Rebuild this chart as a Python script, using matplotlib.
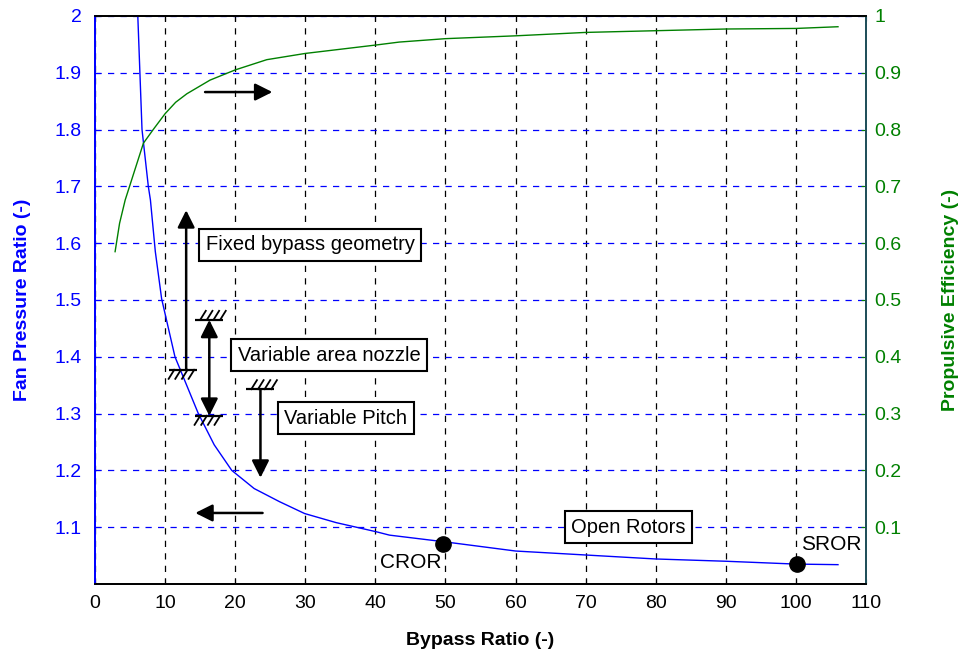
import matplotlib
matplotlib.use("Agg")
import matplotlib.pyplot as plt

plt.rcParams['font.family'] = ['Liberation Sans', 'DejaVu Sans']

# Fan pressure ratio vs bypass ratio (left axis)
bpr_fpr = [6.1, 6.7, 7.6, 7.9, 8.6, 9.5, 11.4, 14.7, 17.0, 19.5, 22.7, 26.3,
           29.9, 34.4, 40.1, 42.0, 50.0, 60.0, 70.0, 80.0, 90.0, 100.0, 106.0]
fpr = [2.0, 1.80, 1.70, 1.676, 1.585, 1.502, 1.400, 1.301, 1.245, 1.200, 1.168, 1.145,
       1.124, 1.108, 1.092, 1.086, 1.074, 1.058, 1.051, 1.044, 1.040, 1.035, 1.034]

# Propulsive efficiency vs bypass ratio (right axis)
bpr_eta = [2.86, 3.5, 4.3, 6.9, 8.3, 10.0, 11.5, 13.1, 16.4, 20.0, 24.5, 30.0, 40.2, 43.4,
           50.0, 60.0, 70.0, 80.0, 90.0, 100.0, 106.0]
eta = [0.585, 0.635, 0.676, 0.776, 0.800, 0.828, 0.848, 0.863, 0.887, 0.905, 0.923, 0.934,
       0.949, 0.954, 0.960, 0.965, 0.971, 0.974, 0.977, 0.978, 0.981]

# Design points
point_names = ['CROR', 'SROR']
point_bpr = [49.7, 100.2]
point_fpr = [1.070, 1.035]

x_ticks = list(range(0, 111, 10))
left_ticks = [1.1, 1.2, 1.3, 1.4, 1.5, 1.6, 1.7, 1.8, 1.9, 2.0]
left_labels = ['1.1', '1.2', '1.3', '1.4', '1.5', '1.6', '1.7', '1.8', '1.9', '2']
right_ticks = [0.1, 0.2, 0.3, 0.4, 0.5, 0.6, 0.7, 0.8, 0.9, 1.0]
right_labels = ['0.1', '0.2', '0.3', '0.4', '0.5', '0.6', '0.7', '0.8', '0.9', '1']

blue = '#0000ff'
green = '#008000'

fig = plt.figure(figsize=(9.63, 6.56), dpi=100)
ax = fig.add_axes([0.0987, 0.1098, 0.8006, 0.8659])
ax2 = ax.twinx()

ax.plot(bpr_fpr, fpr, color=blue, lw=1.0, zorder=3)
ax2.plot(bpr_eta, eta, color=green, lw=1.0)

ax.set_xlim(0, 110)
ax.set_ylim(1.0, 2.0)
ax2.set_ylim(0, 1)

ax.set_xticks(x_ticks)
ax.set_yticks(left_ticks)
ax.set_yticklabels(left_labels)
ax2.set_yticks(right_ticks)
ax2.set_yticklabels(right_labels)

ax.tick_params(axis='x', direction='in', top=True, labelsize=14, pad=8, colors='black')
ax.tick_params(axis='y', direction='in', labelsize=14, pad=9.5, colors=blue)
ax2.tick_params(axis='y', direction='in', labelsize=14, pad=6, colors=green)

ax.xaxis.grid(True, color='black', ls=(0, (5, 5)), lw=0.9)
ax.yaxis.grid(True, color=blue, ls=(0, (5, 5)), lw=0.9)

for a in (ax, ax2):
    a.spines['left'].set_color(blue)
    a.spines['right'].set_color('#1f4f5a')
    a.spines['top'].set_color('black')
    a.spines['bottom'].set_color('black')
    for s in a.spines.values():
        s.set_linewidth(1.3)

ax.set_xlabel('Bypass Ratio (-)', fontsize=14, fontweight='bold', labelpad=14)
ax.set_ylabel('Fan Pressure Ratio (-)', fontsize=14, fontweight='bold', color=blue, labelpad=17)
ax2.set_ylabel('Propulsive Efficiency (-)', fontsize=14, fontweight='bold', color=green, labelpad=29)

# Design points
ax.plot(point_bpr, point_fpr, 'o', color='black', ms=11, zorder=5)
ax.text(45.0, 1.037, 'CROR', fontsize=15, ha='center', va='center')
ax.text(105.0, 1.069, 'SROR', fontsize=15, ha='center', va='center')

# Text boxes
box = dict(boxstyle='square,pad=0.33', facecolor='white', edgecolor='black', lw=1.5)
ax.text(30.7, 1.597, 'Fixed bypass geometry', fontsize=14.5, ha='center', va='center', bbox=box, zorder=6)
ax.text(33.4, 1.403, 'Variable area nozzle', fontsize=14.5, ha='center', va='center', bbox=box, zorder=6)
ax.text(35.8, 1.292, 'Variable Pitch', fontsize=14.5, ha='center', va='center', bbox=box, zorder=6)
ax.text(76.1, 1.100, 'Open Rotors', fontsize=14.5, ha='center', va='center', bbox=box, zorder=6)

# Arrows
arr = dict(arrowstyle='-|>', color='black', lw=1.8, mutation_scale=26, shrinkA=0, shrinkB=0)
arr2 = dict(arrowstyle='<|-|>', color='black', lw=1.8, mutation_scale=26, shrinkA=0, shrinkB=0)
ax2.annotate('', xy=(25.3, 0.866), xytext=(15.7, 0.866), arrowprops=arr)
ax.annotate('', xy=(14.3, 1.125), xytext=(23.9, 1.125), arrowprops=arr)
ax.annotate('', xy=(13.0, 1.658), xytext=(13.0, 1.377), arrowprops=arr)
ax.annotate('', xy=(16.3, 1.465), xytext=(16.3, 1.296), arrowprops=arr2)
ax.annotate('', xy=(23.6, 1.187), xytext=(23.6, 1.343), arrowprops=arr)


def ground(x, y, side):
    # horizontal bar with small hatch strokes on one side
    ax.plot([x - 2.0, x + 2.0], [y, y], color='black', lw=1.6, solid_capstyle='butt', zorder=6)
    dx = 0.8
    dy = 9.0 / 568
    for i in range(4):
        xs = x - 1.3 + i * 0.95
        if side < 0:
            ax.plot([xs, xs - dx], [y, y - dy], color='black', lw=1.3, zorder=6)
        else:
            ax.plot([xs, xs + dx], [y, y + dy], color='black', lw=1.3, zorder=6)


ground(12.6, 1.377, -1)
ground(16.3, 1.465, 1)
ground(16.3, 1.296, -1)
ground(23.6, 1.343, 1)

fig.savefig('out.png', dpi=100)
